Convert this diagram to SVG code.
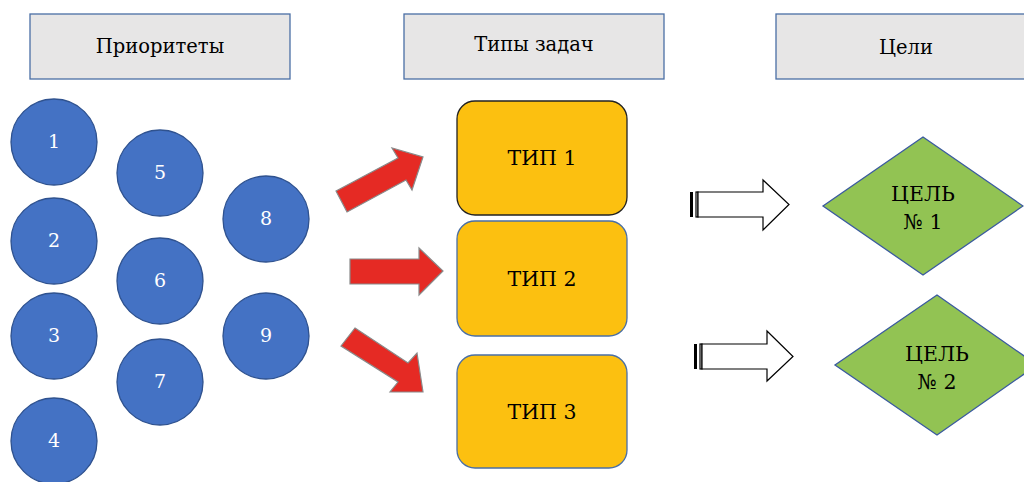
<svg xmlns="http://www.w3.org/2000/svg" width="1024" height="482" viewBox="0 0 1024 482">
<style>
.hdr{fill:#e7e6e6;stroke:#4a6fa5;stroke-width:1.3}
.t{font-family:"DejaVu Serif","Liberation Serif",serif;font-size:19.5px;fill:#000;text-anchor:middle}
.b{font-size:20.5px}
.c{fill:#4472c4;stroke:#2f528f;stroke-width:1.3}
.ct{font-family:"DejaVu Serif","Liberation Serif",serif;font-size:19px;fill:#fff;text-anchor:middle}
.box{fill:#fcc010;stroke-width:1.3}
.dia{fill:#92c353;stroke:#3a5a9f;stroke-width:1.3}
.red{fill:#e52a24;stroke:#8a8a8a;stroke-width:1.2}
.out{fill:#fff;stroke:#000;stroke-width:1.2}
</style>
<rect width="1024" height="482" fill="#fff"/>
<g id="h1"><rect class="hdr" x="30" y="14" width="260" height="65"/><text class="t" x="160" y="53">Приоритеты</text></g>
<g id="h2"><rect class="hdr" x="404" y="14" width="260" height="65"/><text class="t" x="534" y="51">Типы задач</text></g>
<g id="h3"><rect class="hdr" x="776" y="14" width="260" height="65"/><text class="t" x="906" y="54">Цели</text></g>
<g id="p1"><circle class="c" cx="54" cy="142" r="43"/><text class="ct" x="54" y="148">1</text></g>
<g id="p2"><circle class="c" cx="54" cy="241" r="43"/><text class="ct" x="54" y="247">2</text></g>
<g id="p3"><circle class="c" cx="54" cy="336" r="43"/><text class="ct" x="54" y="342">3</text></g>
<g id="p4"><circle class="c" cx="54" cy="441" r="43"/><text class="ct" x="54" y="447">4</text></g>
<g id="p5"><circle class="c" cx="160" cy="173" r="43"/><text class="ct" x="160" y="179">5</text></g>
<g id="p6"><circle class="c" cx="160" cy="281" r="43"/><text class="ct" x="160" y="287">6</text></g>
<g id="p7"><circle class="c" cx="160" cy="382" r="43"/><text class="ct" x="160" y="388">7</text></g>
<g id="p8"><circle class="c" cx="266" cy="219" r="43"/><text class="ct" x="266" y="225">8</text></g>
<g id="p9"><circle class="c" cx="266" cy="336" r="43"/><text class="ct" x="266" y="342">9</text></g>
<g id="type1"><rect class="box" x="457" y="101" width="170" height="114" rx="18" stroke="#222"/><text class="t b" x="542" y="165">ТИП 1</text></g>
<g id="type2"><rect class="box" x="457" y="221" width="170" height="115" rx="18" stroke="#4a6fa5"/><text class="t b" x="542" y="286">ТИП 2</text></g>
<g id="type3"><rect class="box" x="457" y="355" width="170" height="113" rx="18" stroke="#4a6fa5"/><text class="t b" x="542" y="419">ТИП 3</text></g>
<g id="goal1"><polygon class="dia" points="923,137 1023,206 923,275 823,206"/><text class="t b" x="923" y="201">ЦЕЛЬ</text><text class="t b" x="923" y="229">№ 1</text></g>
<g id="goal2"><polygon class="dia" points="937,295 1037,365 937,435 835,365"/><text class="t b" x="937" y="361">ЦЕЛЬ</text><text class="t b" x="937" y="389">№ 2</text></g>
<g id="connectors">
<polygon class="red" points="336,191 398,158 392,148 423,157 412,190 406,180 347,212"/>
<polygon class="red" points="350,259 419,259 419,248 443,271 419,295 419,284 350,284"/>
<polygon class="red" points="355,328 408,363 417,353 423,392 390,392 398,382 341,346"/>
<g id="o1"><rect x="690" y="192" width="3" height="25" fill="#000"/><rect class="out" x="696" y="192" width="2" height="25"/><polygon class="out" points="698,192 763,192 763,180 789,204.5 763,230 763,217 698,217"/></g>
<g id="o2"><rect x="694" y="344" width="3" height="25" fill="#000"/><rect class="out" x="700" y="344" width="2" height="25"/><polygon class="out" points="702,344 767,344 767,331 793,356.5 767,381 767,369 702,369"/></g>
</g>
</svg>
